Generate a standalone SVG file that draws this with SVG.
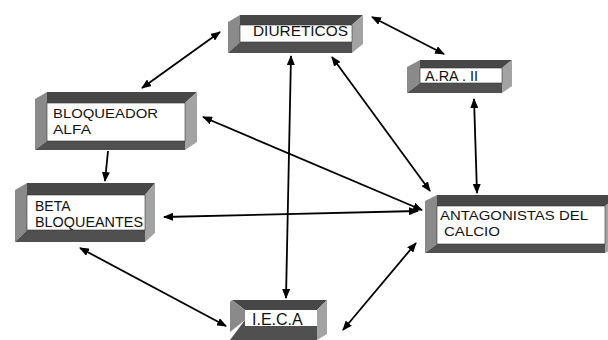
<svg xmlns="http://www.w3.org/2000/svg" width="608" height="340" viewBox="0 0 608 340">
<style>
.top{fill:#474747}
.bot{fill:#505050}
.lft{fill:#8a8a8a}
.rgt{fill:#a3a3a3}
.inn{fill:#ffffff;stroke:#333;stroke-width:0.6}
.t{font-family:"Liberation Sans",Arial,sans-serif;fill:#111}
.c{stroke:#000;stroke-width:1.8;fill:none;marker-end:url(#ah)}
.b{marker-start:url(#ah)}
</style>
<defs>
<marker id="ah" viewBox="0 0 10 8" refX="9" refY="4" markerWidth="10" markerHeight="8" markerUnits="userSpaceOnUse" orient="auto-start-reverse">
<path d="M0,0 L10,4 L0,8 z" fill="#000"/>
</marker>
</defs>
<rect width="608" height="340" fill="#fff"/>

<g id="diureticos">
<polygon class="top" points="240,15 363,15 352,25 240,25"/>
<polygon class="lft" points="228,22 240,15 240,42 228,53"/>
<polygon class="bot" points="228,53 240,42 352,42 352,53"/>
<polygon class="rgt" points="352,25 363,15 363,44 352,53"/>
<rect class="inn" x="240" y="25" width="112" height="17"/>
<text class="t" x="253" y="36" font-size="14" textLength="95" lengthAdjust="spacingAndGlyphs">DIURETICOS</text>
</g>

<g id="bloqueador">
<polygon class="top" points="47,92 197,92 185,103 47,103"/>
<polygon class="lft" points="35,99 47,92 47,141 35,150"/>
<polygon class="bot" points="35,150 47,141 185,141 185,150"/>
<polygon class="rgt" points="185,103 197,92 197,142 185,150"/>
<rect class="inn" x="47" y="103" width="138" height="38"/>
<text class="t" x="53" y="118" font-size="13.5" textLength="105" lengthAdjust="spacingAndGlyphs">BLOQUEADOR</text>
<text class="t" x="53" y="134" font-size="13.5" textLength="38" lengthAdjust="spacingAndGlyphs">ALFA</text>
</g>

<g id="beta">
<polygon class="top" points="27,183 155,183 145,195 27,195"/>
<polygon class="lft" points="15,190 27,183 27,230 15,242"/>
<polygon class="bot" points="15,242 27,230 145,230 145,242"/>
<polygon class="rgt" points="145,195 155,183 155,233 145,242"/>
<rect class="inn" x="27" y="195" width="118" height="35"/>
<text class="t" x="35" y="211" font-size="14">BETA</text>
<text class="t" x="35" y="227" font-size="14" textLength="108" lengthAdjust="spacingAndGlyphs">BLOQUEANTES</text>
</g>

<g id="ara">
<polygon class="top" points="420,60 512,60 502,68 420,68"/>
<polygon class="lft" points="407,67 420,60 420,83 407,93"/>
<polygon class="bot" points="407,93 420,83 502,83 502,93"/>
<polygon class="rgt" points="502,68 512,60 512,86 502,93"/>
<rect class="inn" x="420" y="68" width="82" height="15"/>
<text class="t" x="425" y="81" font-size="14" textLength="53" lengthAdjust="spacingAndGlyphs">A.RA . II</text>
</g>

<g id="antagonistas">
<polygon class="top" points="437,195 620,195 605,206 437,206"/>
<polygon class="lft" points="425,201 437,195 437,244 425,253"/>
<polygon class="bot" points="425,253 437,244 605,244 605,253"/>
<polygon class="rgt" points="605,206 620,195 620,246 605,253"/>
<rect class="inn" x="437" y="206" width="168" height="38"/>
<text class="t" x="440" y="220" font-size="13.5" textLength="148" lengthAdjust="spacingAndGlyphs">ANTAGONISTAS DEL</text>
<text class="t" x="444" y="236" font-size="13.5" textLength="56" lengthAdjust="spacingAndGlyphs">CALCIO</text>
</g>

<g id="ieca">
<polygon class="top" points="232,300 327,300 317,310 245,310"/>
<polygon class="lft" points="230,302 232,300 245,310 245,320 230,332 230,302"/>
<polygon class="bot" points="230,340 245,320 317,320 317,340"/>
<polygon class="rgt" points="317,310 327,300 327,334 317,340"/>
<rect x="245" y="310" width="72" height="16" fill="#fff"/>
<text class="t" x="252" y="325" font-size="16">I.E.C.A</text>
</g>

<g id="connectors">
<line class="c b" x1="220" y1="32" x2="142" y2="88"/>
<line class="c b" x1="372" y1="17" x2="444" y2="54"/>
<line class="c b" x1="291" y1="56" x2="286" y2="298"/>
<line class="c b" x1="332" y1="57" x2="430" y2="191"/>
<line class="c b" x1="474" y1="99" x2="477" y2="193"/>
<line class="c" x1="108" y1="151" x2="105" y2="181"/>
<line class="c b" x1="203" y1="117" x2="422" y2="210"/>
<line class="c b" x1="164" y1="217" x2="418" y2="211"/>
<line class="c b" x1="80" y1="248" x2="226" y2="326"/>
<line class="c b" x1="343" y1="330" x2="416" y2="243"/>
</g>
</svg>
